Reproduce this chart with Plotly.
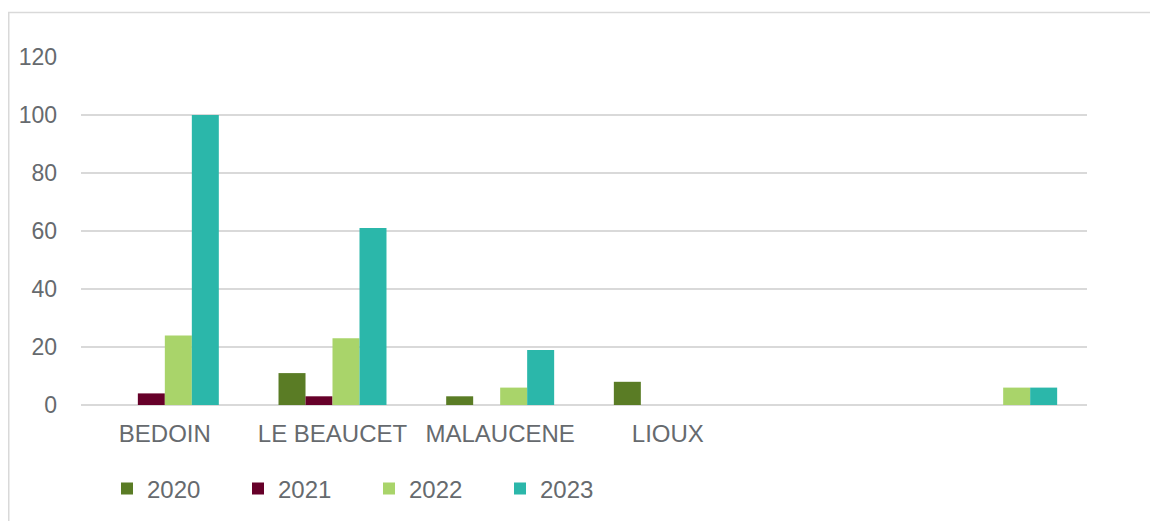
import plotly.graph_objects as go

categories = ["BEDOIN", "LE BEAUCET", "MALAUCENE", "LIOUX", " ", "  "]
v2020 = [0, 11, 3, 8, 0, 0]
v2021 = [4, 3, 0, 0, 0, 0]
v2022 = [24, 23, 6, 0, 0, 6]
v2023 = [100, 61, 19, 0, 0, 6]
series_names = ["2020", "2021", "2022", "2023"]
colors = ["#5A7C25", "#660029", "#A9D46A", "#2BB7AA"]
yticks = [0, 20, 40, 60, 80, 100, 120]

# page has an 8px body margin; work in figure coords = reference coords - 8
OFF = 8
W, H = 1158 - OFF, 521 - OFF
L, R = 81 - OFF, 1087 - OFF
T, B = 57 - OFF, 405 - OFF

fig = go.Figure()
for name, vals, col in zip(series_names, [v2020, v2021, v2022, v2023], colors):
    fig.add_trace(go.Bar(x=categories, y=vals, name=name, marker_color=col,
                         marker_line_width=0))

pw = R - L
ph = B - T
def px2paper_x(px):
    return (px - OFF - L) / pw
def px2paper_y(py):
    return (B - (py - OFF)) / ph
def px2cont_x(px):
    return (px - OFF) / W
def px2cont_y(py):
    return 1 - (py - OFF) / H

grey = "#D9D9D9"
shapes = [
    dict(type="line", xref="paper", yref="paper",
         x0=px2paper_x(8), x1=px2paper_x(1170), y0=px2paper_y(12.5), y1=px2paper_y(12.5),
         line=dict(color=grey, width=1.5)),
    dict(type="line", xref="paper", yref="paper",
         x0=px2paper_x(8.75), x1=px2paper_x(8.75), y0=px2paper_y(12), y1=px2paper_y(540),
         line=dict(color=grey, width=1.5)),
]

fig.update_layout(
    width=W, height=H,
    margin=dict(l=L, r=W - R, t=T, b=H - B, pad=0),
    paper_bgcolor="white", plot_bgcolor="white",
    barmode="group", bargap=0.356, bargroupgap=0,
    font=dict(family="Liberation Sans, Arial, sans-serif", size=23, color="#666A6E"),
    xaxis=dict(showgrid=False, showline=False, ticks="", tickfont=dict(size=24),
               ticklabelstandoff=12),
    yaxis=dict(range=[0, 120], tickvals=yticks, showgrid=True, gridcolor=grey, gridwidth=1.5,
               zeroline=True, zerolinecolor=grey, zerolinewidth=1.5, ticks="",
               ticklabelstandoff=23, showline=False),
    legend=dict(orientation="h", xref="container", yref="container",
                x=px2cont_x(107), xanchor="left",
                y=px2cont_y(489), yanchor="middle",
                font=dict(size=24), entrywidth=86, entrywidthmode="pixels",
                itemwidth=30, tracegroupgap=0),
    shapes=shapes,
    showlegend=True,
)

fig.write_html("out.html")
